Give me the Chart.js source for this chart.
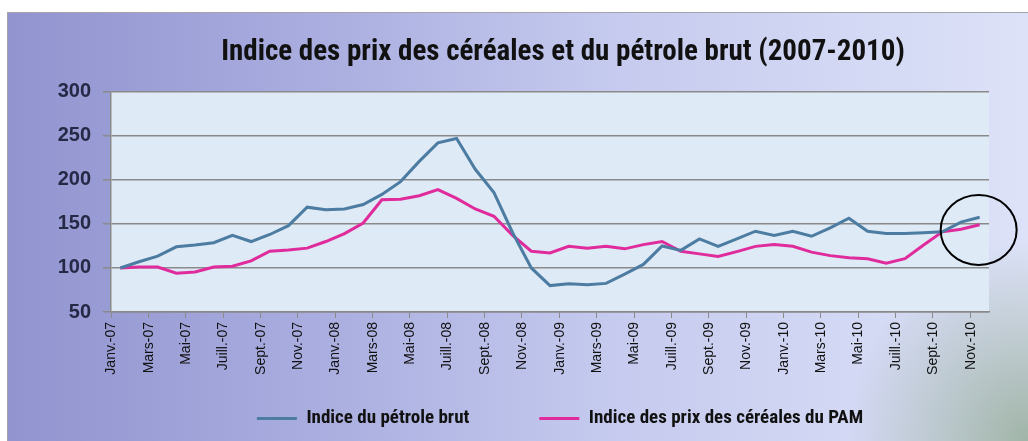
<!DOCTYPE html>
<html>
<head>
<meta charset="utf-8">
<script src="https://cdn.jsdelivr.net/npm/chart.js@4/dist/chart.umd.min.js"></script>
<style>
html, body { margin: 0; padding: 0; background: #fff; }
#cadre {
  position: absolute; left: 7px; top: 12px; width: 1021px; height: 429px;
  box-sizing: border-box; border-top: 1px solid #a4a4ac; border-left: 1px solid #a4a4ac;
  background:
    radial-gradient(ellipse 180px 200px at 100% 100%, rgba(140,165,140,0.75), rgba(140,165,140,0)),
    linear-gradient(to right, #9194cf 0%, #a9addf 30%, #c6cbef 60%, #dde2f8 100%);
}
canvas { position: absolute; left: 0; top: 0; }
</style>
</head>
<body>
<div id="cadre"></div>
<canvas id="graphique" width="1028" height="441"></canvas>
<script>
// mois : janv. 2007 -> nov. 2010 (47 points)
const nomsMois = ['Janv.', 'Févr.', 'Mars', 'Avr.', 'Mai', 'Juin', 'Juill.', 'Août', 'Sept.', 'Oct.', 'Nov.', 'Déc.'];
const annees = ['07', '08', '09', '10'];
const mois = annees.flatMap(a => nomsMois.map(m => m + '-' + a)).slice(0, 47);

const petrole = [100, 107, 113.5, 124, 126, 128.6, 137, 130, 138, 148, 169, 166,
  167, 172, 183.5, 198, 221, 242, 247, 212, 185.5, 140, 100, 80,
  82, 81, 82.5, 93, 104, 125, 120, 133, 124.6, 133, 141.7, 136.8,
  141.7, 136, 145.5, 156.5, 141.7, 139, 139, 140, 141, 152, 157.5];

const cereales = [100, 101, 101, 94, 95.5, 101, 102, 108, 119, 120.5, 122.5, 130,
  139, 151, 177.5, 178, 182, 189, 179, 167, 158.7, 137, 119, 117,
  124.6, 122.5, 124.6, 121.7, 126.5, 130, 119, 116, 113, 118.5, 124.5, 126.5,
  124.7, 118, 114, 111.5, 110.5, 105.5, 110.5, 126, 141, 144, 149];

const axeY = [50, 300, 50]; // min, max, pas

const policeEtroite = "'Liberation Sans Narrow', 'Roboto Condensed', 'Liberation Sans', sans-serif";
const police = "'Liberation Sans', Arial, sans-serif";

const fondTrace = {
  id: 'fondTrace',
  beforeDraw(chart) {
    const { ctx, chartArea: a } = chart;
    ctx.save();
    ctx.fillStyle = '#deeaf5';
    ctx.fillRect(a.left, a.top, a.width, a.height);
    ctx.restore();
  },
  afterDraw(chart) {
    // cercle autour des derniers points
    const { ctx, scales } = chart;
    const dernier = mois.length - 1;
    const cx = scales.x.getPixelForValue(dernier) - 1;
    const cy = (scales.y.getPixelForValue(petrole[dernier]) + scales.y.getPixelForValue(cereales[dernier])) / 2 + 9;
    ctx.save();
    ctx.strokeStyle = '#000';
    ctx.lineWidth = 2;
    ctx.beginPath();
    ctx.ellipse(cx, cy, 38, 35, 0, 0, Math.PI * 2);
    ctx.stroke();
    ctx.restore();
  },
  afterLayout(chart) {
    // place pour les étiquettes verticales sous l'axe
    chart.scales.x.bottom = chart.height;
    chart.legend.left += 10;
    chart.legend.right += 10;
    chart.titleBlock.left += 13;
    chart.titleBlock.right += 13;
  }
};

const ctx = document.getElementById('graphique').getContext('2d');
const graphique = new Chart(ctx, {
  type: 'line',
  data: {
    labels: mois,
    datasets: [{
      label: 'Indice du pétrole brut',
      data: petrole,
      borderColor: '#4d7ca2',
      backgroundColor: '#4d7ca2',
      borderWidth: 3,
      pointRadius: 0,
      tension: 0
    }, {
      label: 'Indice des prix des céréales du PAM',
      data: cereales,
      borderColor: '#e02b9c',
      backgroundColor: '#e02b9c',
      borderWidth: 3,
      pointRadius: 0,
      tension: 0
    }]
  },
  options: {
    responsive: false,
    animation: false,
    layout: { padding: { top: 0, right: 39, bottom: 3, left: 0 } },
    plugins: {
      title: {
        display: true,
        fullSize: false,
        text: 'Indice des prix des céréales et du pétrole brut (2007-2010)',
        color: '#111',
        font: { family: policeEtroite, size: 29, weight: 'bold' },
        padding: { top: 35, bottom: 22 }
      },
      legend: {
        position: 'bottom',
        fullSize: false,
        labels: {
          usePointStyle: true,
          pointStyle: 'line',
          pointStyleWidth: 40,
          padding: 70,
          color: '#111',
          font: { family: policeEtroite, size: 19, weight: 'bold' }
        }
      },
      tooltip: { enabled: false }
    },
    scales: {
      x: {
        type: 'category',
        offset: true,
        afterFit(scale) { scale.height = 27; },
        grid: {
          offset: true,
          drawOnChartArea: false,
          tickLength: 6,
          color: c => (c.index % 2 === 0 ? '#8a8a8a' : 'transparent')
        },
        border: { color: '#8a8a8a', width: 1.5 },
        ticks: {
          autoSkip: false,
          minRotation: 90,
          maxRotation: 90,
          labelOffset: -9,
          padding: 4,
          color: '#111',
          font: { family: police, size: 14 },
          callback: (v, i) => (i % 2 === 0 ? mois[i] : '')
        }
      },
      y: {
        min: axeY[0],
        max: axeY[1],
        afterFit(scale) { scale.width = 111; },
        grid: { color: '#8a8a8a', lineWidth: 1.5, tickLength: 8 },
        border: { color: '#8a8a8a', width: 1.5 },
        ticks: {
          stepSize: axeY[2],
          padding: 12,
          color: '#262946',
          font: { family: police, size: 20, weight: 'bold' }
        }
      }
    }
  },
  plugins: [fondTrace]
});
</script>
</body>
</html>
